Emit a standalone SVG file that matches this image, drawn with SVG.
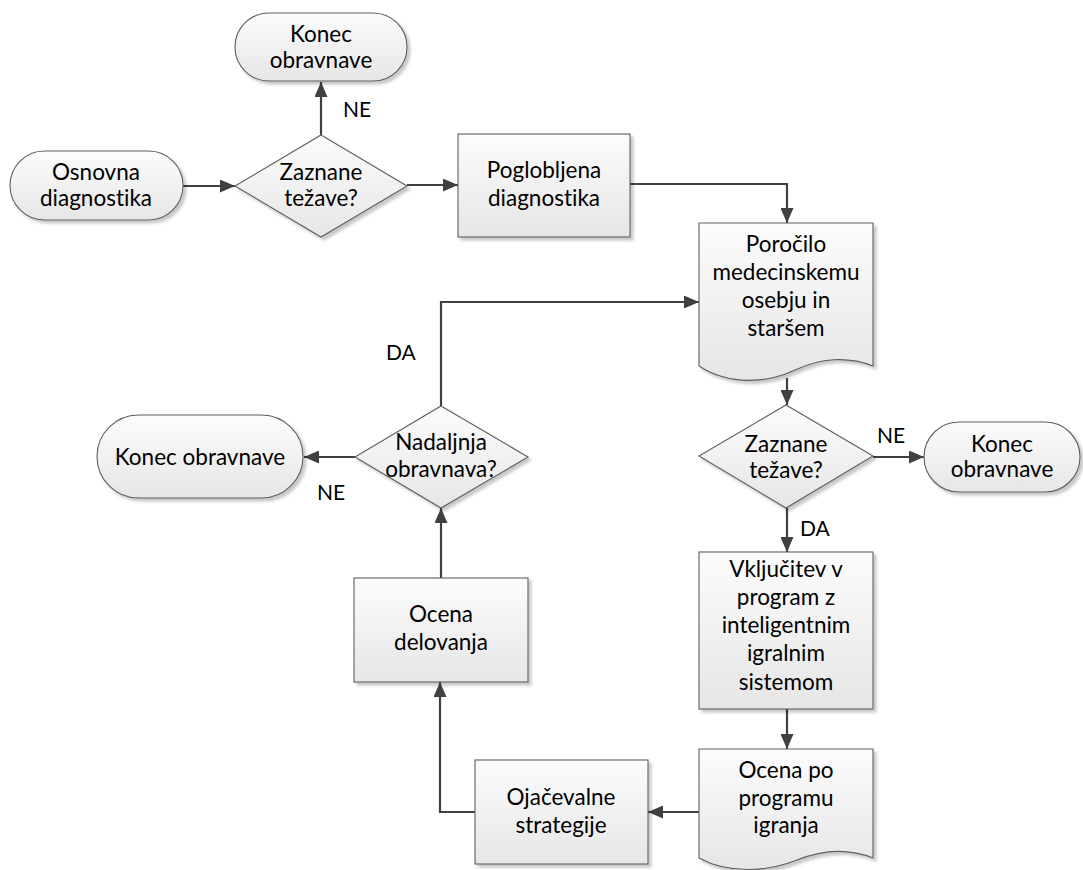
<svg xmlns="http://www.w3.org/2000/svg" width="1083" height="870" viewBox="0 0 1083 870">
<style>
.shape{fill:url(#g);stroke:#5f5f5f;stroke-width:1.1;filter:url(#sh)}
.t{font-family:Lato,"Liberation Sans",sans-serif;font-size:22.5px;fill:#000;text-anchor:middle;font-variant-ligatures:none}
.lbl{font-family:Lato,"Liberation Sans",sans-serif;font-size:21px;fill:#000}
.c{fill:none;stroke:#404040;stroke-width:2.2;marker-end:url(#arr)}
</style>
<defs>
<linearGradient id="g" x1="0" y1="0" x2="0" y2="1">
<stop offset="0" stop-color="#fcfcfc"/>
<stop offset="1" stop-color="#e6e6e6"/>
</linearGradient>
<filter id="sh" x="-10%" y="-10%" width="130%" height="130%">
<feDropShadow dx="3" dy="3" stdDeviation="1.5" flood-color="#000" flood-opacity="0.22"/>
</filter>
<marker id="arr" markerWidth="15" markerHeight="13" refX="15" refY="6.5" orient="auto" markerUnits="userSpaceOnUse">
<path d="M0,0 L15,6.5 L0,13 Z" fill="#404040"/>
</marker>
</defs>
<rect width="1083" height="870" fill="#fff"/>

<g id="connectors">
<path class="c" d="M183,186 H235"/>
<path class="c" d="M321,135 V82"/>
<path class="c" d="M407,185 H458"/>
<path class="c" d="M630,184 H787 V223"/>
<path class="c" d="M787,378 V405"/>
<path class="c" d="M873,457 H924"/>
<path class="c" d="M787,508 V552"/>
<path class="c" d="M787,709 V749"/>
<path class="c" d="M699,812 H648"/>
<path class="c" d="M475,812 H440 V682"/>
<path class="c" d="M441,578 V508"/>
<path class="c" d="M441,406 V302 H699"/>
<path class="c" d="M355,457 H304"/>
</g>

<g id="labels">
<text class="lbl" x="343" y="117">NE</text>
<text class="lbl" x="877" y="443">NE</text>
<text class="lbl" x="800" y="536">DA</text>
<text class="lbl" x="386" y="360">DA</text>
<text class="lbl" x="317" y="500">NE</text>
</g>

<g id="end-top">
<rect class="shape" x="235" y="13" width="172" height="68" rx="34" ry="34"/>
<text class="t" x="321" y="42">Konec</text>
<text class="t" x="321" y="68">obravnave</text>
</g>

<g id="start">
<rect class="shape" x="10" y="151" width="173" height="69" rx="34.5" ry="34.5"/>
<text class="t" x="96" y="180">Osnovna</text>
<text class="t" x="96" y="206">diagnostika</text>
</g>

<g id="decision1">
<path class="shape" d="M321,135 L407,186 L321,237 L235,186 Z"/>
<text class="t" x="321" y="180">Zaznane</text>
<text class="t" x="321" y="206">težave?</text>
</g>

<g id="poglobljena">
<rect class="shape" x="458" y="134" width="172" height="103"/>
<text class="t" x="544" y="178">Poglobljena</text>
<text class="t" x="544" y="206">diagnostika</text>
</g>

<g id="porocilo">
<path class="shape" d="M699,223 H873 V366 C848,356 820,358 795,370 C768,383 730,386 699,366 Z"/>
<text class="t" x="786" y="252">Poročilo</text>
<text class="t" x="786" y="280">medecinskemu</text>
<text class="t" x="786" y="308">osebju in</text>
<text class="t" x="786" y="336">staršem</text>
</g>

<g id="decision2">
<path class="shape" d="M786,405 L873,456 L786,508 L699,456 Z"/>
<text class="t" x="786" y="452">Zaznane</text>
<text class="t" x="786" y="478">težave?</text>
</g>

<g id="end-right">
<rect class="shape" x="924" y="422" width="156" height="70" rx="35" ry="35"/>
<text class="t" x="1002" y="452">Konec</text>
<text class="t" x="1002" y="477">obravnave</text>
</g>

<g id="vkljucitev">
<rect class="shape" x="699" y="552" width="174" height="157"/>
<text class="t" x="786" y="577">Vključitev v</text>
<text class="t" x="786" y="605">program z</text>
<text class="t" x="786" y="633">inteligentnim</text>
<text class="t" x="786" y="661">igralnim</text>
<text class="t" x="786" y="690">sistemom</text>
</g>

<g id="ocena-program">
<path class="shape" d="M699,749 H873 V858 C848,848 822,850 797,860 C770,871 730,875 699,858 Z"/>
<text class="t" x="786" y="778">Ocena po</text>
<text class="t" x="786" y="806">programu</text>
<text class="t" x="786" y="833">igranja</text>
</g>

<g id="ojacevalne">
<rect class="shape" x="475" y="760" width="173" height="104"/>
<text class="t" x="561" y="805">Ojačevalne</text>
<text class="t" x="561" y="833">strategije</text>
</g>

<g id="ocena-delovanja">
<rect class="shape" x="354" y="578" width="174" height="104"/>
<text class="t" x="441" y="622">Ocena</text>
<text class="t" x="441" y="650">delovanja</text>
</g>

<g id="decision3">
<path class="shape" d="M441,406 L528,457 L441,508 L355,457 Z"/>
<text class="t" x="441" y="450">Nadaljnja</text>
<text class="t" x="441" y="477">obravnava?</text>
</g>

<g id="end-left">
<rect class="shape" x="97" y="415" width="206" height="83" rx="41.5" ry="41.5"/>
<text class="t" x="200" y="465">Konec obravnave</text>
</g>
</svg>
